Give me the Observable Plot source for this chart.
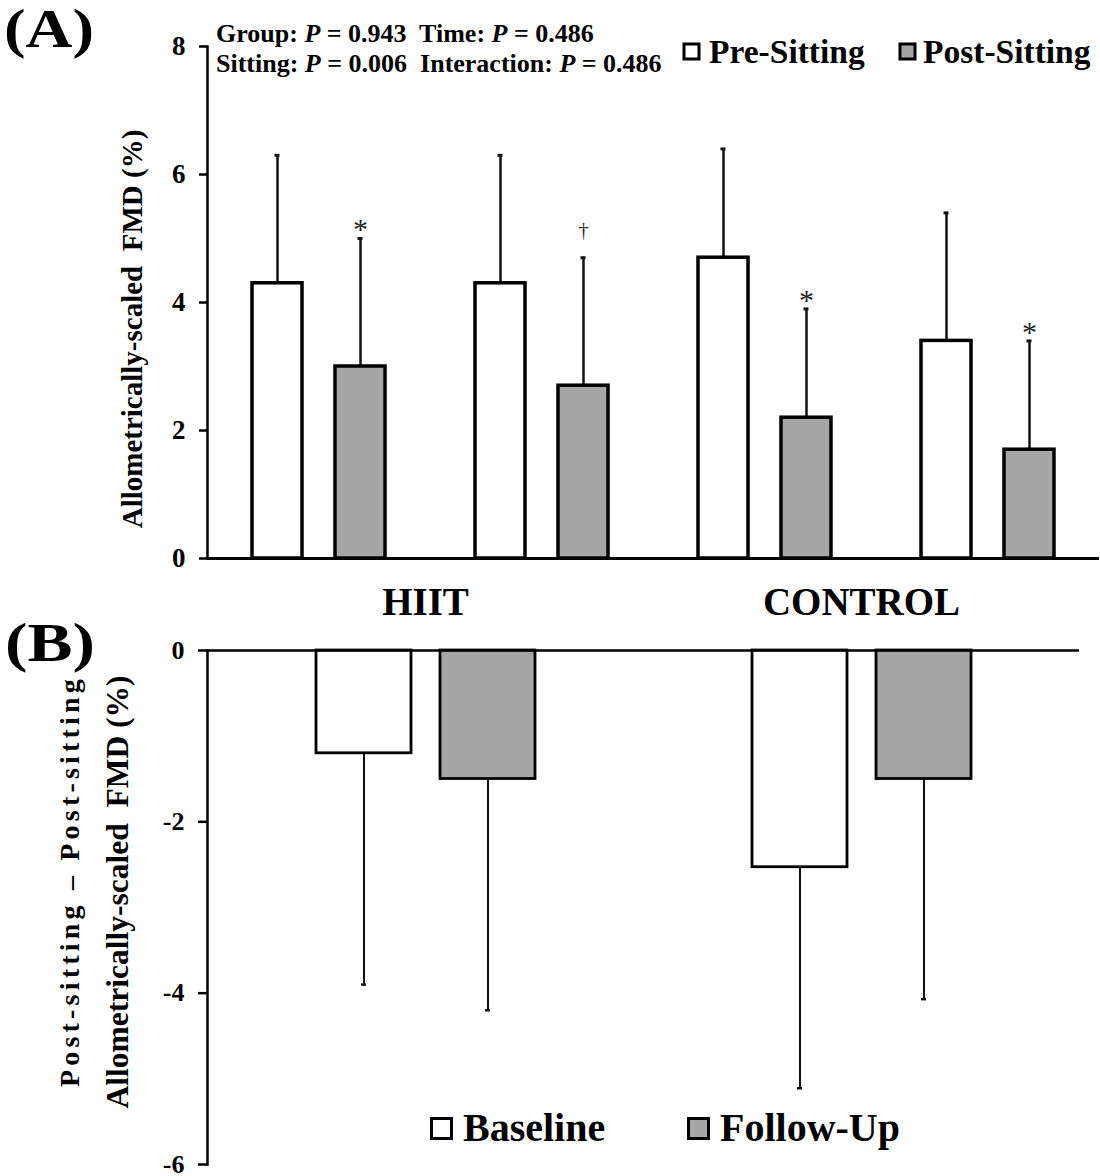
<!DOCTYPE html>
<html>
<head>
<meta charset="utf-8">
<script src="https://cdn.jsdelivr.net/npm/d3@7"></script>
<script src="https://cdn.jsdelivr.net/npm/@observablehq/plot@0.6"></script>
<style>
  body { margin: 0; background: #ffffff; }
  #wrap { position: relative; width: 1100px; height: 1176px; font-family: "Liberation Serif", "Times New Roman", serif; }
  #wrap > .panel { position: absolute; left: 0; }
  #overlay { position: absolute; left: 0; top: 0; pointer-events: none; }
</style>
</head>
<body>
<div id="wrap"></div>
<script>
// ---------- Panel A data ----------
const groupsA = ["HIIT Baseline", "HIIT Follow-Up", "CONTROL Baseline", "CONTROL Follow-Up"];
const conditionsA = ["Pre-Sitting", "Post-Sitting"];
const preMean = [4.3, 4.3, 4.7, 3.4];
const preSD = [2.0, 2.0, 1.7, 2.0];
const postMean = [3.0, 2.7, 2.2, 1.7];
const postSD = [2.0, 2.0, 1.7, 1.7];
const postSymbols = ["*", "†", "*", "*"];
const yTicksA = [0, 2, 4, 6, 8];
const statLines = [
  [["Group: ", false], ["P", true], [" = 0.943  Time: ", false], ["P", true], [" = 0.486", false]],
  [["Sitting: ", false], ["P", true], [" = 0.006  Interaction: ", false], ["P", true], [" = 0.486", false]]
];

// ---------- Panel B data ----------
const groupsB = ["HIIT", "CONTROL"];
const timesB = ["Baseline", "Follow-Up"];
const baselineDelta = [-1.2, -2.53];
const baselineSD = [2.7, 2.58];
const followDelta = [-1.5, -1.5];
const followSD = [2.7, 2.57];
const yTicksB = [0, -2, -4, -6];

const FONT = '"Liberation Serif", "Times New Roman", serif';
const GRAY = "#a6a6a6";

const tableA = [];
groupsA.forEach((g, i) => {
  tableA.push({group: g, cond: conditionsA[0], mean: preMean[i], sd: preSD[i], sym: ""});
  tableA.push({group: g, cond: conditionsA[1], mean: postMean[i], sd: postSD[i], sym: postSymbols[i]});
});
const tableB = [];
groupsB.forEach((g, i) => {
  tableB.push({group: g, time: timesB[0], mean: baselineDelta[i], sd: baselineSD[i]});
  tableB.push({group: g, time: timesB[1], mean: followDelta[i], sd: followSD[i]});
});

const wrap = document.getElementById("wrap");

const plotA = Plot.plot({
  width: 1100, height: 580,
  marginLeft: 205, marginRight: 0, marginTop: 46, marginBottom: 22,
  fx: {domain: groupsA, padding: 0, axis: null},
  x: {domain: conditionsA, paddingInner: 0.393, paddingOuter: 0.528, axis: null},
  y: {domain: [0, 8], axis: null},
  color: {domain: conditionsA, range: ["#ffffff", GRAY]},
  style: {fontFamily: FONT, fontWeight: "bold", background: "transparent", overflow: "visible", color: "#000"},
  marks: [
    Plot.ruleX(tableA, {fx: "group", x: "cond", y1: "mean", y2: d => d.mean + d.sd, stroke: "#111", strokeWidth: 2.5}),
    Plot.tickY(tableA, {fx: "group", x: "cond", y: d => d.mean + d.sd, stroke: "#111", strokeWidth: 3, insetLeft: 22.5, insetRight: 22.5}),
    Plot.barY(tableA, {fx: "group", x: "cond", y: "mean", fill: "cond", stroke: "#000", strokeWidth: 3.5}),
    Plot.text(tableA.filter(d => d.sym === "*"), {fx: "group", x: "cond", y: d => d.mean + d.sd, text: "sym", dy: -9, fontSize: 30, fontWeight: "normal", fill: "#222"}),
    Plot.text(tableA.filter(d => d.sym === "†"), {fx: "group", x: "cond", y: d => d.mean + d.sd, text: "sym", dy: -27, fontSize: 21, fontWeight: "normal", fill: "#333"}),
    Plot.ruleY([0], {stroke: "#000", strokeWidth: 3}),
    Plot.frame({anchor: "left", facetAnchor: "left", stroke: "#000", strokeWidth: 2.5}),
    Plot.axisY({ticks: yTicksA, tickSize: 8, tickPadding: 14, strokeWidth: 2.5, fontSize: 27, fontWeight: "bold", label: null, tickFormat: d => String(d)})
  ]
});
plotA.classList.add("panel");
plotA.style.top = "0px";
wrap.appendChild(plotA);

const plotB = Plot.plot({
  width: 1100, height: 596,
  marginLeft: 206, marginRight: 21, marginTop: 70, marginBottom: 12,
  fx: {domain: groupsB, padding: 0, axis: null},
  x: {domain: timesB, paddingInner: 0.236, paddingOuter: 0.864, axis: null},
  y: {domain: [-6, 0], axis: null},
  color: {domain: timesB, range: ["#ffffff", GRAY]},
  style: {fontFamily: FONT, fontWeight: "bold", background: "transparent", overflow: "visible", color: "#000"},
  marks: [
    Plot.ruleX(tableB, {fx: "group", x: "time", y1: "mean", y2: d => d.mean - d.sd, stroke: "#111", strokeWidth: 2}),
    Plot.tickY(tableB, {fx: "group", x: "time", y: d => d.mean - d.sd, stroke: "#111", strokeWidth: 2.5, insetLeft: 45, insetRight: 45}),
    Plot.barY(tableB, {fx: "group", x: "time", y: "mean", fill: "time", stroke: "#000", strokeWidth: 2.8}),
    Plot.ruleY([0], {stroke: "#000", strokeWidth: 2.5}),
    Plot.frame({anchor: "left", facetAnchor: "left", stroke: "#000", strokeWidth: 2.5}),
    Plot.axisY({ticks: yTicksB, tickSize: 9, tickPadding: 14, strokeWidth: 2.5, fontSize: 26, fontWeight: "bold", label: null, tickFormat: d => String(d)}),
    Plot.text(groupsB, {fx: d => d, text: d => d, frameAnchor: "top", dy: -63, fontSize: 39, fontWeight: "bold", fill: "#000"})
  ]
});
plotB.classList.add("panel");
plotB.style.top = "580px";
wrap.appendChild(plotB);

// ---------- Overlay: panel letters, stats, legends, axis titles ----------
const NS = "http://www.w3.org/2000/svg";
const ov = document.createElementNS(NS, "svg");
ov.setAttribute("id", "overlay");
ov.setAttribute("width", 1100);
ov.setAttribute("height", 1176);
ov.style.fontFamily = FONT;
wrap.appendChild(ov);

function txt(str, attrs) {
  const t = document.createElementNS(NS, "text");
  for (const k in attrs) t.setAttribute(k, attrs[k]);
  t.textContent = str;
  ov.appendChild(t);
  return t;
}
function rect(attrs) {
  const r = document.createElementNS(NS, "rect");
  for (const k in attrs) r.setAttribute(k, attrs[k]);
  ov.appendChild(r);
}

txt("(A)", {x: 4, y: 47, "font-size": 54, "font-weight": "bold", textLength: 90, lengthAdjust: "spacingAndGlyphs"});
txt("(B)", {x: 5, y: 661, "font-size": 54, "font-weight": "bold", textLength: 90, lengthAdjust: "spacingAndGlyphs"});

statLines.forEach((parts, li) => {
  const t = document.createElementNS(NS, "text");
  t.setAttribute("x", 216);
  t.setAttribute("y", li === 0 ? 42 : 72);
  t.setAttribute("font-size", 26);
  t.setAttribute("font-weight", "bold");
  t.style.whiteSpace = "pre";
  parts.forEach(([s, it]) => {
    const sp = document.createElementNS(NS, "tspan");
    if (it) sp.setAttribute("font-style", "italic");
    sp.textContent = s;
    t.appendChild(sp);
  });
  ov.appendChild(t);
});

// legend A
rect({x: 684, y: 44, width: 15, height: 15, fill: "#fff", stroke: "#000", "stroke-width": 3});
txt(conditionsA[0], {x: 709, y: 63, "font-size": 33.5, "font-weight": "bold"});
rect({x: 900, y: 44, width: 15, height: 15, fill: GRAY, stroke: "#000", "stroke-width": 3});
txt(conditionsA[1], {x: 923, y: 63, "font-size": 33.5, "font-weight": "bold"});

// legend B
rect({x: 431.5, y: 1118.5, width: 20, height: 20, fill: "#fff", stroke: "#000", "stroke-width": 3});
txt(timesB[0], {x: 463, y: 1141, "font-size": 40, "font-weight": "bold"});
rect({x: 688.5, y: 1118.5, width: 20, height: 20, fill: GRAY, stroke: "#000", "stroke-width": 3});
txt(timesB[1], {x: 720, y: 1141, "font-size": 40, "font-weight": "bold"});

// y-axis titles
txt("Allometrically-scaled  FMD (%)", {x: 0, y: 0, "font-size": 29, "font-weight": "bold", "text-anchor": "middle",
  transform: "translate(142,329) rotate(-90)", style: "white-space:pre"});
txt("Post-sitting – Post-sitting", {x: 0, y: 0, "font-size": 28, "font-weight": "bold", "text-anchor": "middle",
  "letter-spacing": 4.2, transform: "translate(79,881) rotate(-90)", style: "white-space:pre"});
txt("Allometrically-scaled  FMD (%)", {x: 0, y: 0, "font-size": 31.5, "font-weight": "bold", "text-anchor": "middle",
  transform: "translate(128,892) rotate(-90)", style: "white-space:pre"});
</script>
</body>
</html>
